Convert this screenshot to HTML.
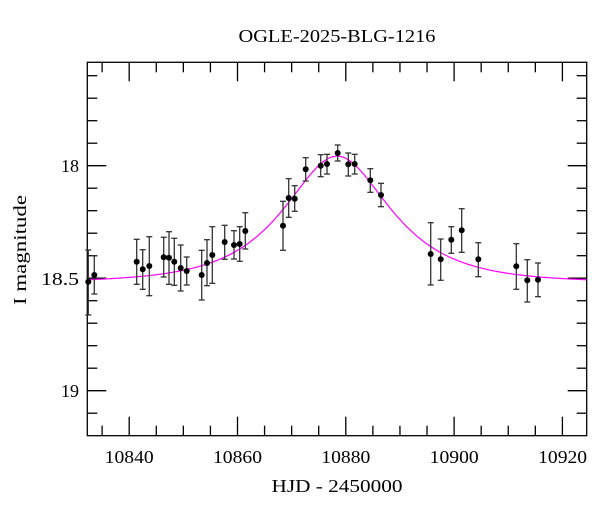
<!DOCTYPE html>
<html><head><meta charset="utf-8"><style>
html,body{margin:0;padding:0;background:#fff;width:600px;height:512px;overflow:hidden}
svg{display:block}
text{font-family:"Liberation Serif",serif;fill:#000}
</style></head><body>
<svg id="s" width="600" height="512" viewBox="0 0 600 512">
<text x="337" y="42" font-size="18" text-anchor="middle" textLength="197" lengthAdjust="spacingAndGlyphs">OGLE-2025-BLG-1216</text>
<text x="337" y="492" font-size="18" text-anchor="middle" textLength="131" lengthAdjust="spacingAndGlyphs">HJD - 2450000</text>
<text transform="translate(26,250) rotate(-90)" font-size="18" text-anchor="middle" textLength="110" lengthAdjust="spacingAndGlyphs">I magnitude</text>
<g font-size="18" text-anchor="middle">
<text x="129.2" y="463" textLength="49" lengthAdjust="spacingAndGlyphs">10840</text><text x="237.5" y="463" textLength="49" lengthAdjust="spacingAndGlyphs">10860</text><text x="345.8" y="463" textLength="49" lengthAdjust="spacingAndGlyphs">10880</text><text x="454.2" y="463" textLength="49" lengthAdjust="spacingAndGlyphs">10900</text><text x="562.6" y="463" textLength="49" lengthAdjust="spacingAndGlyphs">10920</text>
</g>
<g font-size="18" text-anchor="end">
<text x="79" y="172">18</text><text x="79" y="285" textLength="38" lengthAdjust="spacingAndGlyphs">18.5</text><text x="79" y="397">19</text>
</g>
<g id="ax" stroke="#000" stroke-width="1.3" fill="none"></g>
<path id="curve" fill="none" stroke="#ff00ff" stroke-width="1.2"/>
<g id="pts"></g>
</svg>
<script>
var L=87.3,R=586.7,T=62.3,B=435.7;
function X(t){return 129.2+(t-10840)*5.415;}
function Y(m){return 165.7+(m-18)*225;}
var ax=document.getElementById('ax'),h='';
h+='<rect x="'+L+'" y="'+T+'" width="'+(R-L)+'" height="'+(B-T)+'"/>';
for(var t=10835;t<=10924;t+=5){var x=X(t),len=(t%20==0)?19:10;
h+='<line x1="'+x+'" y1="'+B+'" x2="'+x+'" y2="'+(B-len)+'"/><line x1="'+x+'" y1="'+T+'" x2="'+x+'" y2="'+(T+len)+'"/>';}
for(var k=-4;k<=11;k++){var m=18+k*0.1,y=Y(m);if(y<T||y>B)continue;var len=(k%5==0)?19:10;
h+='<line x1="'+L+'" y1="'+y+'" x2="'+(L+len)+'" y2="'+y+'"/><line x1="'+R+'" y1="'+y+'" x2="'+(R-len)+'" y2="'+y+'"/>';}
ax.innerHTML=h;
var t0=10878.4,u0=0.7,tE=14.3,I0=18.52,d='';
for(var x=L;x<=R;x+=1){var t=10840+(x-129.2)/5.415,tau=(t-t0)/tE,u=Math.sqrt(u0*u0+tau*tau);
var A=(u*u+2)/(u*Math.sqrt(u*u+4));var m=I0-2.5*Math.log10(A);d+=(x==L?'M':'L')+x.toFixed(1)+' '+Y(m).toFixed(1);}
document.getElementById('curve').setAttribute('d',d);
var P=[[88.3,281.7,250,315],[94.3,275,255.7,294],[136.7,261.7,239.3,284.3],[142.7,269.3,249.7,289.3],[149.3,266,236.7,295.7],[163.7,257.3,237.3,277],[169,257.7,231.7,284.3],[174.3,261.7,238.3,285.3],[180.7,268,245,291],[186.7,271,257,285],[201.7,275,250.3,300],[207,263,239.7,285.7],[212.3,255,226.7,283.3],[224.7,242,225.3,259.3],[234,245,230.7,259],[239.7,244,226.7,261.3],[245.3,231,212.7,249],[283,225.7,201.3,250.3],[288.7,198,178.7,217.3],[294.7,198.7,185.7,211.3],[305.7,169.3,157.7,181],[320.7,165.7,154.7,176.7],[327,164,154.3,174],[337.7,153,145,161],[348.3,164.3,153,176],[354.7,164,154.3,174],[370.3,180.3,168.7,192.3],[381,195,183.3,206.7],[430.7,254,222.7,285],[440.7,259.3,239,280.3],[451.3,239.7,226.7,253.3],[461.7,230.3,208.7,252.3],[478.3,259.3,242.7,276.7],[516.3,266.3,243.7,289.3],[527.3,280.3,259.7,302],[538,279.7,263,296.7]];
var g='';P.forEach(function(p){var x=p[0],c=3;
g+='<g stroke="#333" stroke-width="1.3"><line x1="'+x+'" y1="'+p[2]+'" x2="'+x+'" y2="'+p[3]+'"/><line x1="'+(x-c)+'" y1="'+p[2]+'" x2="'+(x+c)+'" y2="'+p[2]+'"/><line x1="'+(x-c)+'" y1="'+p[3]+'" x2="'+(x+c)+'" y2="'+p[3]+'"/></g><circle cx="'+x+'" cy="'+p[1]+'" r="3" fill="#000"/>';});
document.getElementById('pts').innerHTML=g;
</script>
</body></html>
